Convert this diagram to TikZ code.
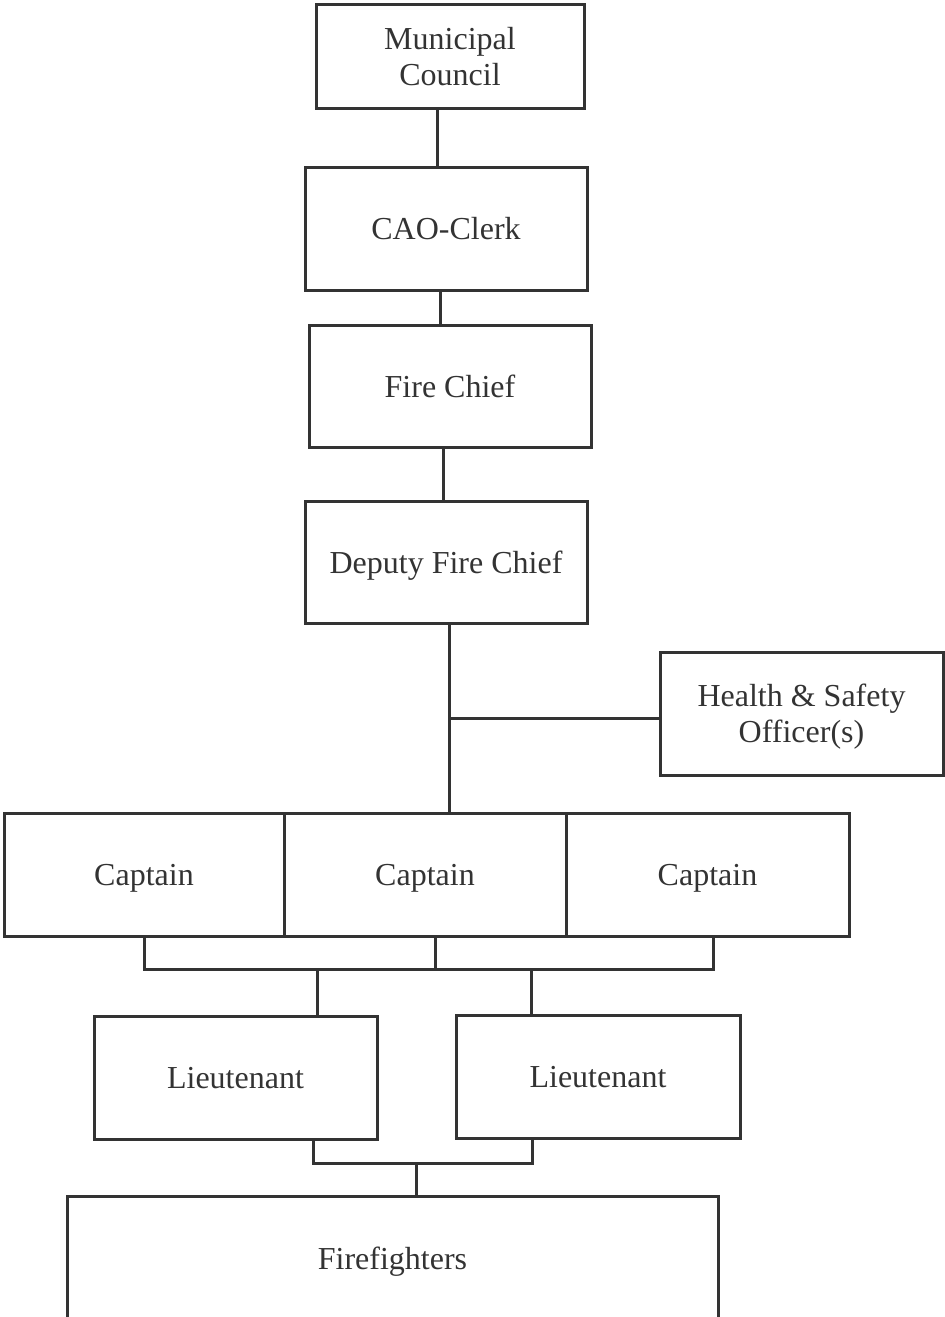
\documentclass[tikz,border=0pt]{standalone}
\usepackage{fontspec}
\setmainfont{Liberation Serif}
\usepackage{tikz}
\usetikzlibrary{shapes}
\usetikzlibrary{calc}
\definecolor{ink}{gray}{0.2}
\tikzstyle{post}=[rectangle,draw=ink,text=ink,inner sep=0mm,text depth=0pt,align=center,font=\fontsize{16}{18}\selectfont]
\tikzstyle{link}=[draw=ink]
\tikzset{every picture/.style={
    line width=1.5pt
  }
}
\begin{document}
\begin{tikzpicture}[x=0.5pt,y=-0.5pt]
      \useasboundingbox (0,0) rectangle (945,1317);
      \node[post,minimum width=134pt,minimum height=52pt] at (450,56) (council) {Municipal\\Council};
      \node[post,minimum width=141pt,minimum height=61.5pt] at (446,228.5) (clerk) {CAO-Clerk};
      \node[post,minimum width=141pt,minimum height=61pt] at (450,386) (chief) {Fire Chief};
      \node[post,minimum width=141pt,minimum height=61pt] at (446,562) (deputy) {Deputy Fire Chief};
      \node[post,minimum width=141.5pt,minimum height=61.5pt] at (801.5,713.5) (safety) {Health \& Safety\\Officer(s)};
      \node[post,minimum width=140pt,minimum height=61.5pt] at (144,874.5) (capA) {Captain};
      \node[post,minimum width=141pt,minimum height=61.5pt] at (425,874.5) (capB) {Captain};
      \node[post,minimum width=141.5pt,minimum height=61.5pt] at (707.5,874.5) (capC) {Captain};
      \node[post,minimum width=141.5pt,minimum height=61.5pt] at (235.5,1077.5) (ltA) {Lieutenant};
      \node[post,minimum width=142pt,minimum height=61.5pt] at (598,1076.5) (ltB) {Lieutenant};
      \node[post,minimum width=325.5pt,minimum height=62pt] at (392.5,1258) (crew) {Firefighters};
      \coordinate (spine) at (449,718);
      \coordinate (capjoin) at (435,969);
      \coordinate (capjoinA) at (144,969);
      \coordinate (capjoinC) at (713,969);
      \coordinate (ltjoinA) at (317,969);
      \coordinate (ltjoinB) at (531,969);
      \coordinate (lowA) at (313,1163);
      \coordinate (lowB) at (532,1163);
      \coordinate (lowjoin) at (416,1163);
      \draw[link] ([xshift=-6.5pt]council.south) -- ([xshift=-6.5pt]council.south |- clerk.north);
      \draw[link] ([xshift=-3pt]clerk.south) -- ([xshift=-3pt]clerk.south |- chief.north);
      \draw[link] ([xshift=-3.5pt]chief.south) -- ([xshift=-3.5pt]chief.south |- deputy.north);
      \draw[link] (spine |- deputy.south) -- (spine |- capB.north);
      \draw[link] (spine) -- (spine -| safety.west);
      \draw[link] (capjoinA |- capA.south) -- (capjoinA) -- (capjoinC) -- (capjoinC |- capC.south);
      \draw[link] (capjoin) -- (capjoin |- capB.south);
      \draw[link] (ltjoinA) -- (ltjoinA |- ltA.north);
      \draw[link] (ltjoinB) -- (ltjoinB |- ltB.north);
      \draw[link] (lowA |- ltA.south) -- (lowA) -- (lowB) -- (lowB |- ltB.south);
      \draw[link] (lowjoin) -- (lowjoin |- crew.north);
    \end{tikzpicture}
\end{document}
